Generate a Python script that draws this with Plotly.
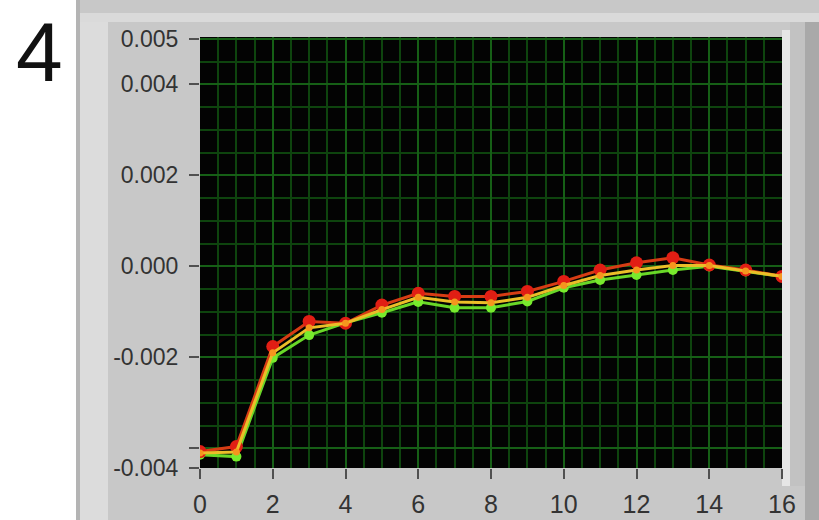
import plotly.graph_objects as go

# Sample index on the x axis
x_vals = list(range(17))

# Three traces of the same measurement (units on the y axis)
red_vals = [-0.00407, -0.00396, -0.00176, -0.00121, -0.00125, -0.00085, -0.00059, -0.00066,
            -0.00066, -0.00055, -0.00033, -0.00008, 0.00008, 0.00019, 0.00003, -0.00008, -0.00022]
yellow_vals = [-0.00410, -0.00408, -0.00190, -0.00135, -0.00125, -0.00095, -0.00068, -0.00078,
               -0.00080, -0.00068, -0.00042, -0.00020, -0.00008, 0.00002, 0.00002, -0.00010, -0.00022]
green_vals = [-0.00414, -0.00418, -0.00201, -0.00151, -0.00124, -0.00102, -0.00078, -0.00091,
              -0.00091, -0.00077, -0.00047, -0.00030, -0.00019, -0.00008, 0.00000, -0.00011, -0.00022]

x_ticks = [0, 2, 4, 6, 8, 10, 12, 14, 16]
y_min, y_max = -0.00443, 0.00504
y_tick_vals = [y_min, -0.004, -0.002, 0.0, 0.002, 0.004, 0.005]
y_tick_text = ["-0.004", "", "-0.002", "0.000", "0.002", "0.004", "0.005"]

# Figure geometry (pixels)
W, H = 819, 520
L, R, T, B = 200, 37, 37, 52
PW, PH = W - L - R, H - T - B


def px(p):
    return (p - L) / PW


def py(p):
    return (H - B - p) / PH


fig = go.Figure()

fig.add_trace(go.Scatter(
    x=x_vals, y=green_vals, mode="lines+markers",
    line=dict(color="rgb(105,215,40)", width=3),
    marker=dict(color="rgb(120,235,45)", size=10),
    showlegend=False, hoverinfo="skip"))
fig.add_trace(go.Scatter(
    x=x_vals, y=red_vals, mode="lines+markers",
    line=dict(color="rgb(215,60,20)", width=3),
    marker=dict(color="rgb(225,30,20)", size=13),
    showlegend=False, hoverinfo="skip"))
fig.add_trace(go.Scatter(
    x=x_vals, y=yellow_vals, mode="lines+markers",
    line=dict(color="rgb(235,190,40)", width=3),
    marker=dict(color="rgb(245,150,30)", size=7),
    showlegend=False, hoverinfo="skip"))


def band(x0, x1, y0, y1, color):
    return dict(type="rect", xref="paper", yref="paper",
                x0=px(x0), x1=px(x1), y0=py(y1), y1=py(y0),
                fillcolor=color, line=dict(width=0), layer="below")


shapes = [
    band(-20, 76, -20, H + 40, "white"),   # white margin at the far left
    band(76, 80, -20, H + 40, "#b4b4b4"),  # panel bevel
    band(80, 108, 22, H + 40, "#dcdcdc"),
    band(80, W + 20, 13, 22, "#dadada"),
    band(782, 790, 30, 486, "#e6e6e6"),
    band(790, 805, 22, 486, "#c2c2c2"),
    band(805, W + 20, 22, H + 40, "#a9a9a9"),
]

grid_major = "rgb(22,95,22)"
grid_minor = "rgb(14,68,14)"
text_color = "#333333"

fig.update_layout(
    width=W, height=H,
    margin=dict(l=L, r=R, t=T, b=B, autoexpand=False),
    paper_bgcolor="#c8c8c8",
    plot_bgcolor="#030303",
    shapes=shapes,
    font=dict(family="Liberation Sans, Arial, sans-serif", color=text_color, size=22),
    annotations=[dict(
        text="4", xref="paper", yref="paper", x=px(39), y=py(52),
        xanchor="center", yanchor="middle", showarrow=False,
        font=dict(size=84, color="#111111", family="Liberation Sans, Arial, sans-serif"))],
    xaxis=dict(
        range=[0, 16], tickvals=x_ticks, ticks="outside", ticklen=10, tickwidth=2,
        tickcolor="#505050", showgrid=True, gridcolor=grid_major, gridwidth=2,
        zeroline=False, showline=False, fixedrange=True, ticklabelstandoff=4,
        automargin=False,
        minor=dict(dtick=0.5, tick0=0, showgrid=True, gridcolor=grid_minor, gridwidth=2),
        tickfont=dict(size=25, color=text_color)),
    yaxis=dict(
        range=[y_min, y_max], tickvals=y_tick_vals, ticktext=y_tick_text,
        ticks="outside", ticklen=10, tickwidth=2, tickcolor="#505050",
        showgrid=True, gridcolor=grid_major, gridwidth=2,
        zeroline=False, showline=False, fixedrange=True, ticklabelstandoff=6,
        automargin=False,
        minor=dict(dtick=0.0005, tick0=0, showgrid=True, gridcolor=grid_minor, gridwidth=2),
        tickfont=dict(size=23, color=text_color)),
)

fig.write_html("out.html", config={"displayModeBar": False})
